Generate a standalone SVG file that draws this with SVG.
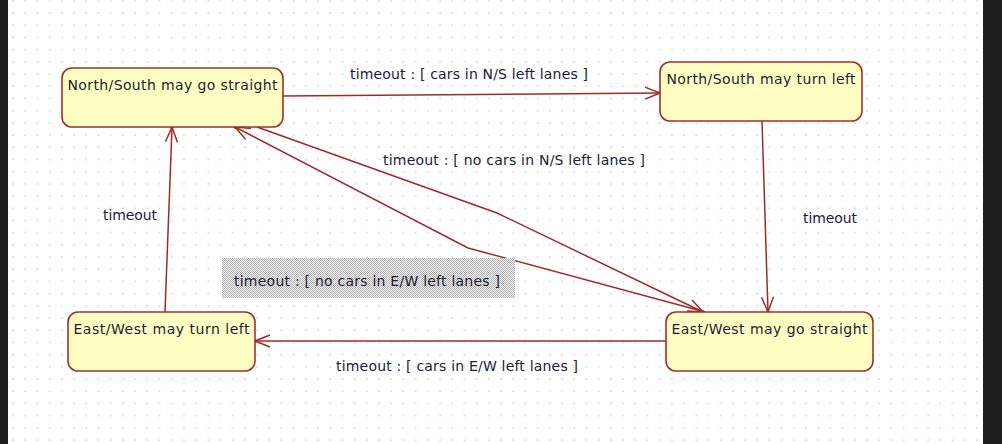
<svg xmlns="http://www.w3.org/2000/svg" width="1002" height="444" viewBox="0 0 1002 444">
<style>
.node rect{fill:#ffffc4;stroke:#a03030;stroke-width:1.6}
.node text{font-family:"DejaVu Sans",sans-serif;font-size:14px;fill:#1c1c34;text-anchor:middle}
.lbl{font-family:"DejaVu Sans",sans-serif;font-size:14px;fill:#1c1c34}
.edge{fill:none;stroke:#a02a2a;stroke-width:1.5;marker-end:url(#arr)}
</style>
<defs>
<pattern id="grid" patternUnits="userSpaceOnUse" x="12" y="12" width="12.2" height="12.2">
<rect x="0.4" y="0.4" width="1.4" height="1.4" fill="#c8c8c8"/>
</pattern>
<pattern id="half" patternUnits="userSpaceOnUse" width="2" height="2">
<rect width="2" height="2" fill="#f4f4f4"/>
<rect x="0" y="0" width="1" height="1" fill="#b4b4b4"/>
<rect x="1" y="1" width="1" height="1" fill="#b4b4b4"/>
</pattern>
<marker id="arr" markerUnits="userSpaceOnUse" markerWidth="20" markerHeight="16" viewBox="-17 -8 20 16" refX="0" refY="0" orient="auto" overflow="visible">
<path d="M-15,-6 L0,0 L-15,6" fill="none" stroke="#a02a2a" stroke-width="1.5"/>
<circle r="1.8" fill="#a02a2a"/>
</marker>
</defs>
<rect width="1002" height="444" fill="#ffffff"/>
<rect width="1002" height="444" fill="url(#grid)"/>
<rect x="0" y="0" width="8" height="444" fill="#1e1e1e"/>
<rect x="983" y="0" width="19" height="444" fill="#1e1e1e"/>

<g id="connectors">
<path class="edge" d="M283,96 L660,93"/>
<path class="edge" d="M762,121 L768,312"/>
<path class="edge" d="M666,341 L255,341"/>
<path class="edge" d="M165,312 L172,127"/>
<path class="edge" d="M257,127 L497,213 L703,312"/>
<path class="edge" d="M705,312 L468,248 L235,127"/>
</g>

<g id="labels">
<text class="lbl" x="350" y="79" textLength="238">timeout : [ cars in N/S left lanes ]</text>
<text class="lbl" x="383" y="165" textLength="262">timeout : [ no cars in N/S left lanes ]</text>
<rect x="222" y="258" width="293" height="40" fill="url(#half)"/>
<text class="lbl" x="234" y="286" textLength="266">timeout : [ no cars in E/W left lanes ]</text>
<text class="lbl" x="336" y="371" textLength="242">timeout : [ cars in E/W left lanes ]</text>
<text class="lbl" x="103" y="220" textLength="54">timeout</text>
<text class="lbl" x="803" y="223" textLength="54">timeout</text>
</g>

<g id="ns-straight" class="node">
<rect x="62" y="68" width="221" height="59" rx="10"/>
<text x="172.5" y="90" textLength="210">North/South may go straight</text>
</g>
<g id="ns-left" class="node">
<rect x="660" y="62" width="202" height="59" rx="10"/>
<text x="761" y="84" textLength="189">North/South may turn left</text>
</g>
<g id="ew-left" class="node">
<rect x="68" y="312" width="187" height="59" rx="10"/>
<text x="161.5" y="334" textLength="176">East/West may turn left</text>
</g>
<g id="ew-straight" class="node">
<rect x="666" y="312" width="207" height="59" rx="10"/>
<text x="769.5" y="334" textLength="196">East/West may go straight</text>
</g>
</svg>
